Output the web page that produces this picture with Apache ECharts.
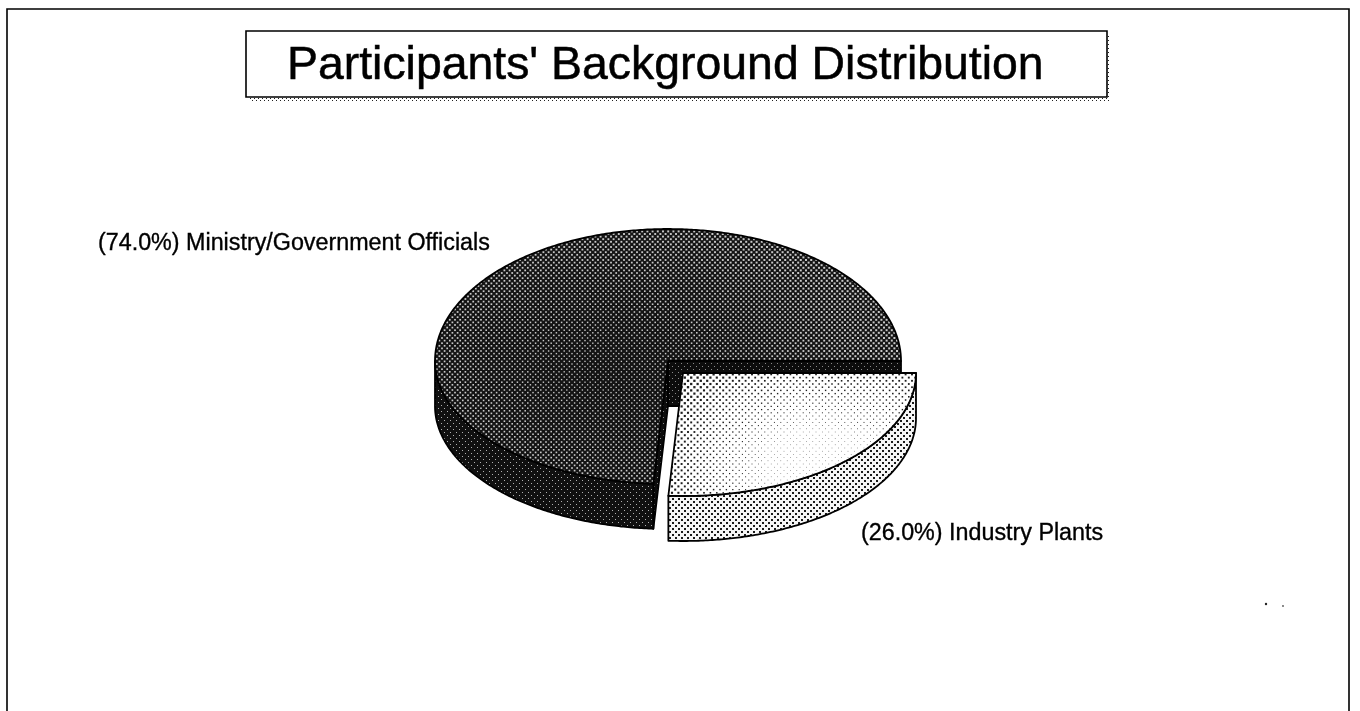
<!DOCTYPE html>
<html>
<head>
<meta charset="utf-8">
<style>html,body{margin:0;padding:0;background:#fff}#chart{width:1360px;height:711px}</style>
<script src="https://cdn.jsdelivr.net/npm/echarts@6/dist/echarts.min.js"></script>
</head>
<body>
<div id="chart"></div>
<script>
// Shares of participants by background, in percent.
const categories = ['Ministry/Government Officials', 'Industry Plants'];
const shares = [74.0, 26.0];
const chartTitle = "Participants' Background Distribution";

// Tilted-pie geometry, in pixels. The far half of the rim is a little taller than the near half.
const pie = { cx: 668, cy: 361, rx: 233, ryFar: 132, ryNear: 123, depth: 45 };
const sliceOffset = [[0, 0], [15, 12]];
const labelAnchor = [[98, 244], [861, 534]];

const PAGE_W = 1360, PAGE_H = 711;

// Flat halftone tile: dots on a diagonal grid over a base colour.
function halftone(base, dot, step, size) {
  const c = document.createElement('canvas');
  c.width = c.height = Math.round(step * 2);
  const g = c.getContext('2d');
  g.fillStyle = base;
  g.fillRect(0, 0, c.width, c.height);
  g.fillStyle = dot;
  g.fillRect(0, 0, size, size);
  g.fillRect(step, step, size, size);
  return { image: c, repeat: 'repeat' };
}

// Page-sized halftone whose dot size follows a shading function of position.
function shadedHalftone(base, dot, step, sizeAt) {
  const c = document.createElement('canvas');
  c.width = PAGE_W;
  c.height = PAGE_H;
  const g = c.getContext('2d');
  g.fillStyle = base;
  g.fillRect(0, 0, PAGE_W, PAGE_H);
  g.fillStyle = dot;
  for (let row = 0; row * step < PAGE_H; row++) {
    for (let col = 0; col * step * 2 < PAGE_W; col++) {
      const x = col * step * 2 + (row % 2 ? step : 0);
      const y = row * step;
      const s = sizeAt(x, y);
      if (s > 0.5) g.fillRect(x - s / 2, y - s / 2, s, s);
    }
  }
  return { image: c, repeat: 'no-repeat' };
}

const clamp = (v, lo, hi) => Math.min(hi, Math.max(lo, v));

// Dark face: pale specks grow towards the upper right and shrink near the middle.
const darkTop = shadedHalftone('#141414', '#c8c8c8', 2.6, (x, y) => {
  const d = Math.hypot(x - 600, (y - 375) * 1.6);
  return 1.25 + 0.75 * clamp(d / 260, 0, 1);
});
// Pale face: dark dots thin out into a soft white highlight low on the slice.
const paleTop = shadedHalftone('#ffffff', '#1e1e1e', 3.2, (x, y) => {
  const dx = x - 810;
  const d = Math.hypot(dx * (dx > 0 ? 0.55 : 0.85), (y - 465) * 1.05);
  return 0.6 + 1.7 * clamp((d - 35) / 95, 0, 1);
});

const sliceFills = [
  { top: darkTop, side: halftone('#101010', '#b0b0b0', 3, 1), wall: halftone('#0c0c0c', '#8a8a8a', 3, 1) },
  { top: paleTop, side: halftone('#f6f6f6', '#1a1a1a', 3, 2), wall: halftone('#f6f6f6', '#1a1a1a', 3, 2) }
];

const toAngle = s => s / 100 * Math.PI * 2;

function rimPoint(cx, cy, a, drop) {
  const sin = Math.sin(a);
  return [cx + pie.rx * Math.cos(a), cy + (sin < 0 ? pie.ryFar : pie.ryNear) * sin + drop];
}

// Samples a run of points along the rim of the ellipse.
function rim(cx, cy, a0, a1, drop) {
  const n = Math.max(2, Math.ceil((a1 - a0) / 0.01));
  const pts = [];
  for (let i = 0; i <= n; i++) pts.push(rimPoint(cx, cy, a0 + (a1 - a0) * i / n, drop));
  return pts;
}

const outline = { stroke: '#000', lineWidth: 1.8, lineJoin: 'round' };

function renderSlice(params, api) {
  const i = params.dataIndex;
  const share = api.value(0);
  const a0 = toAngle(api.value(1));
  const a1 = a0 + toAngle(share);
  const cx = pie.cx + sliceOffset[i][0];
  const cy = pie.cy + sliceOffset[i][1];
  const fills = sliceFills[i];
  const children = [];
  const poly = (points, fill) => children.push({ type: 'polygon', shape: { points }, style: Object.assign({ fill }, outline) });

  // Cut faces that turn towards the viewer.
  const wall = a => {
    const p = rimPoint(cx, cy, a, 0);
    poly([[cx, cy], p, [p[0], p[1] + pie.depth], [cx, cy + pie.depth]], fills.wall);
  };
  if (Math.cos(a0) < 0) wall(a0);
  if (Math.cos(a1) > 0) wall(a1);

  // Outer rim: only the part on the near half of the ellipse shows.
  const turn = Math.floor(a0 / (Math.PI * 2)) * Math.PI * 2;
  [[Math.max(a0, turn), Math.min(a1, turn + Math.PI)],
   [Math.max(a0, turn + Math.PI * 2), Math.min(a1, turn + Math.PI * 3)]].forEach(([f, t]) => {
    if (t > f) poly(rim(cx, cy, f, t, 0).concat(rim(cx, cy, f, t, pie.depth).reverse()), fills.side);
  });

  // Top face.
  poly([[cx, cy]].concat(rim(cx, cy, a0, a1, 0)), fills.top);

  children.push({
    type: 'text',
    style: {
      x: labelAnchor[i][0], y: labelAnchor[i][1],
      text: '(' + share.toFixed(1) + '%) ' + categories[i],
      fill: '#000', stroke: '#000', lineWidth: 0.35,
      font: '23.3px "Liberation Sans"',
      verticalAlign: 'middle', align: 'left'
    }
  });
  return { type: 'group', children };
}

// Each row holds a share and where it starts; the last slice opens at three o'clock.
let running = shares[shares.length - 1];
const sliceRows = shares.map(s => {
  const row = [s, running];
  running += s;
  return row;
});

const chart = echarts.init(document.getElementById('chart'));
chart.setOption({
  animation: false,
  backgroundColor: '#fff',
  title: {
    text: chartTitle,
    left: 287, top: 43, padding: 0,
    textStyle: { fontFamily: 'Liberation Sans', fontSize: 46.4, fontWeight: 'normal', color: '#000', textBorderColor: '#000', textBorderWidth: 0.5 }
  },
  graphic: [
    // Sheet frame, running off the bottom edge.
    { type: 'polyline', silent: true, shape: { points: [[7, 720], [7, 9], [1349, 9], [1349, 720]] }, style: { stroke: '#000', lineWidth: 1.6, fill: 'none' } },
    // Title plate with its dotted drop shadow.
    { type: 'rect', silent: true, shape: { x: 249, y: 34, width: 861, height: 67 }, style: { fill: halftone('#ffffff', '#222', 2, 1) } },
    { type: 'rect', silent: true, shape: { x: 246, y: 31, width: 861, height: 66 }, style: { fill: '#fff', stroke: '#000', lineWidth: 1.6 } },
    { type: 'circle', silent: true, shape: { cx: 1266, cy: 604, r: 1.2 }, style: { fill: '#222' } },
    { type: 'circle', silent: true, shape: { cx: 1283, cy: 606, r: 0.9 }, style: { fill: '#555' } }
  ],
  series: [{
    type: 'custom',
    coordinateSystem: 'none',
    silent: true,
    data: sliceRows,
    renderItem: renderSlice
  }]
});
</script>
</body>
</html>
